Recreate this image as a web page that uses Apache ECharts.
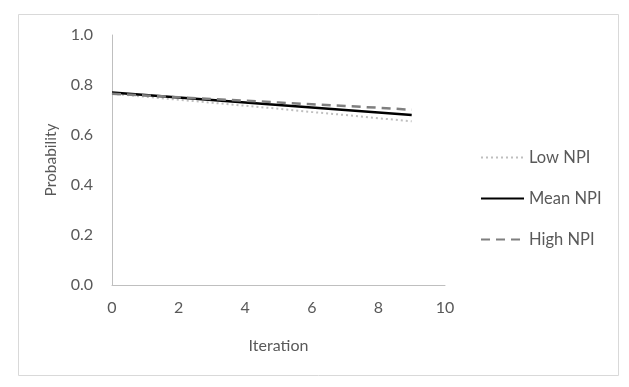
<!DOCTYPE html>
<html><head><meta charset="utf-8">
<script src="https://cdn.jsdelivr.net/npm/echarts@6/dist/echarts.min.js"></script>
<style>html,body{margin:0;padding:0;background:#fff}#c{width:629px;height:387px}</style>
</head><body><div id="c"></div>
<script>
const iterations = [0,1,2,3,4,5,6,7,8,9];
const lowNPI  = [0.765,0.753,0.741,0.729,0.717,0.705,0.692,0.680,0.667,0.655];
const meanNPI = [0.770,0.760,0.750,0.740,0.730,0.720,0.710,0.700,0.690,0.680];
const highNPI = [0.765,0.758,0.751,0.744,0.737,0.730,0.723,0.716,0.709,0.701];
const seriesNames = ['Low NPI','Mean NPI','High NPI'];
const xTicks = [0,2,4,6,8,10];
const yTicks = [0,0.2,0.4,0.6,0.8,1.0];

const font = 'Lato, "Open Sans", sans-serif';
const txt = '#595959';
function pts(arr){ return iterations.map((x,i)=>[x,arr[i]]); }
const chart = echarts.init(document.getElementById('c'));
chart.setOption({
  animation:false,
  backgroundColor:'#fff',
  textStyle:{fontFamily:font,color:txt},
  graphic:[{type:'rect',shape:{x:18.5,y:14.5,width:600,height:361},style:{fill:'none',stroke:'#d9d9d9',lineWidth:1},silent:true}],
  grid:{left:112,right:184,top:35,bottom:102},
  xAxis:{type:'value',min:0,max:10,interval:2,
    name:'Iteration',nameLocation:'middle',nameGap:53,
    nameTextStyle:{fontFamily:font,color:txt,fontSize:16},
    axisLine:{lineStyle:{color:'#bfbfbf'}},axisTick:{show:false},splitLine:{show:false},
    axisLabel:{fontFamily:font,color:txt,fontSize:16,margin:15,formatter:v=>xTicks.includes(v)?String(v):''}},
  yAxis:{type:'value',min:0,max:1,interval:0.2,
    name:'Probability',nameLocation:'middle',nameGap:53,nameRotate:90,
    nameTextStyle:{fontFamily:font,color:txt,fontSize:15.5},
    axisLine:{show:true,lineStyle:{color:'#bfbfbf'}},axisTick:{show:false},splitLine:{show:false},
    axisLabel:{fontFamily:font,color:txt,fontSize:16,margin:19,formatter:v=>v.toFixed(1)}},
  legend:{orient:'vertical',left:480,top:149,padding:0,itemWidth:43,itemHeight:16,itemGap:24,
    itemStyle:{opacity:0},
    textStyle:{fontFamily:font,color:txt,fontSize:16.5,lineHeight:16},
    data:seriesNames},
  series:[
    {name:seriesNames[0],type:'line',data:pts(lowNPI),symbol:'none',
     lineStyle:{color:'#bfbfbf',width:2,type:[2,3]},itemStyle:{color:'#bfbfbf'}},
    {name:seriesNames[1],type:'line',data:pts(meanNPI),symbol:'none',
     lineStyle:{color:'#000000',width:2.5},itemStyle:{color:'#000000'}},
    {name:seriesNames[2],type:'line',data:pts(highNPI),symbol:'none',
     lineStyle:{color:'#7f7f7f',width:2.5,type:[9,6]},itemStyle:{color:'#7f7f7f'}}
  ]
});
</script></body></html>
